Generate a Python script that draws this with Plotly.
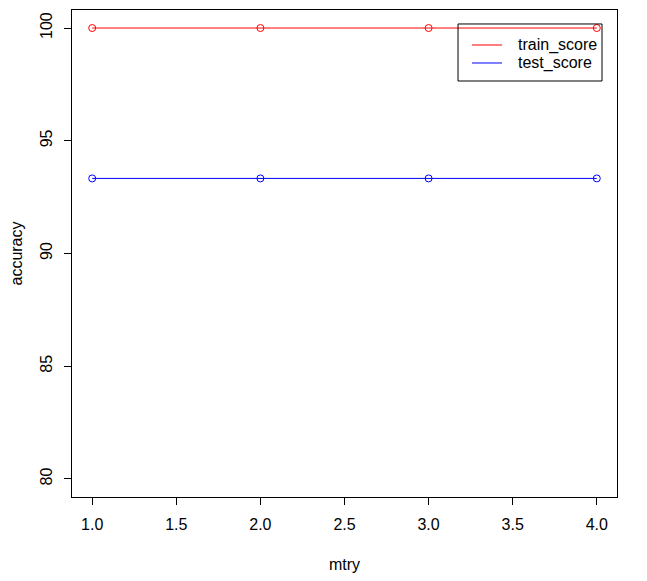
import plotly.graph_objects as go

mtry = [1, 2, 3, 4]
train_score = [100, 100, 100, 100]
test_score = [93.33, 93.33, 93.33, 93.33]
x_ticks = [1.0, 1.5, 2.0, 2.5, 3.0, 3.5, 4.0]
x_tick_labels = ["1.0", "1.5", "2.0", "2.5", "3.0", "3.5", "4.0"]
y_ticks = [80, 85, 90, 95, 100]
series_names = ["train_score", "test_score"]
series_colors = ["red", "blue"]

FONT = "Liberation Sans, Arial, sans-serif"

fig = go.Figure()
for vals, name, col in zip([train_score, test_score], series_names, series_colors):
    fig.add_trace(go.Scatter(x=mtry, y=vals, mode="lines+markers", name=name,
                             line=dict(color=col, width=1),
                             marker=dict(symbol="circle-open", size=7, color=col,
                                         line=dict(width=1)),
                             showlegend=False))

# R-style legend box (transparent background), in plot-area coordinates
shapes = [dict(type="rect", xref="paper", yref="paper",
               x0=0.7083, x1=0.9725, y0=0.8542, y1=0.9713,
               line=dict(color="black", width=1), fillcolor="rgba(0,0,0,0)",
               layer="above")]
annotations = []
row_y = [0.9281, 0.8912]
for name, col, yy in zip(series_names, series_colors, row_y):
    shapes.append(dict(type="line", xref="paper", yref="paper",
                       x0=0.7339, x1=0.7890, y0=yy, y1=yy,
                       line=dict(color=col, width=1), layer="above"))
    annotations.append(dict(xref="paper", yref="paper", x=0.8147, y=yy,
                            text=name, showarrow=False, xanchor="left",
                            yanchor="middle", font=dict(size=16, color="black")))

fig.update_layout(
    width=639, height=573,
    margin=dict(l=64, r=30, t=2, b=84, autoexpand=False),
    paper_bgcolor="white", plot_bgcolor="white",
    font=dict(family=FONT, size=16, color="black"),
    showlegend=False,
    shapes=shapes, annotations=annotations,
)
fig.update_xaxes(range=[0.88, 4.12], tickvals=x_ticks, ticktext=x_tick_labels,
                 showgrid=False, zeroline=False, showline=True, linecolor="black",
                 linewidth=1, mirror=True, ticks="outside", ticklen=7, tickcolor="black",
                 ticklabelstandoff=6, automargin=False,
                 title=dict(text="mtry", font=dict(size=16), standoff=26))
fig.update_yaxes(range=[79.2, 100.8], tickvals=y_ticks, tickangle=-90,
                 showgrid=False, zeroline=False, showline=True, linecolor="black",
                 linewidth=1, mirror=True, ticks="outside", ticklen=7, tickcolor="black",
                 ticklabelstandoff=6, automargin=False,
                 title=dict(text="accuracy", font=dict(size=16), standoff=24))

fig.write_html("out.html")
